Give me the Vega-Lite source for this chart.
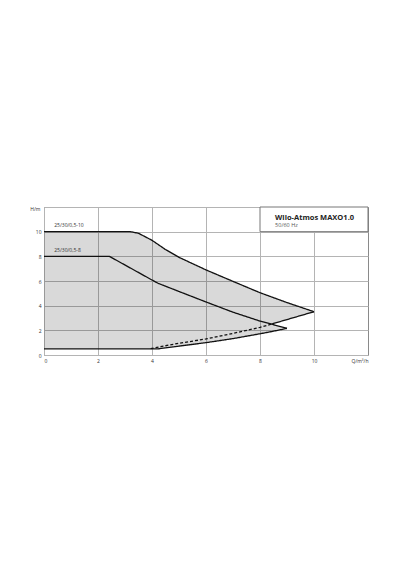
{
  "$schema": "https://vega.github.io/schema/vega-lite/v6.json",
  "width": 324,
  "height": 148,
  "autosize": "none",
  "padding": {"left": 44, "top": 207, "right": 32, "bottom": 215},
  "background": "white",
  "config": {
    "font": "Open Sans",
    "view": {"stroke": "#8a8a8a", "strokeWidth": 1},
    "axis": {
      "grid": true,
      "gridColor": "#b4b4b4",
      "gridWidth": 1,
      "domain": false,
      "ticks": false,
      "labelOverlap": false,
      "labelFontSize": 5,
      "labelColor": "#333",
      "labelPadding": 3,
      "titleFontSize": 5,
      "titleFontWeight": "normal",
      "titleColor": "#333"
    }
  },
  "datasets": {
    "areas": [
      {"model": "0,5-10", "q": 0, "top": 10, "bot": 0.5},
      {"model": "0,5-10", "q": 3.2, "top": 10, "bot": 0.5},
      {"model": "0,5-10", "q": 3.5, "top": 9.87, "bot": 0.5},
      {"model": "0,5-10", "q": 3.95, "top": 9.36, "bot": 0.52},
      {"model": "0,5-10", "q": 4.5, "top": 8.55, "bot": 0.75},
      {"model": "0,5-10", "q": 5, "top": 7.92, "bot": 0.95},
      {"model": "0,5-10", "q": 6, "top": 6.9, "bot": 1.3},
      {"model": "0,5-10", "q": 7, "top": 5.97, "bot": 1.75},
      {"model": "0,5-10", "q": 8, "top": 5.05, "bot": 2.24},
      {"model": "0,5-10", "q": 8.43, "top": 4.7, "bot": 2.51},
      {"model": "0,5-10", "q": 9, "top": 4.25, "bot": 2.87},
      {"model": "0,5-10", "q": 10, "top": 3.51, "bot": 3.51},
      {"model": "0,5-8 only", "q": 3.95, "top": 0.52, "bot": 0.5},
      {"model": "0,5-8 only", "q": 4.23, "top": 0.64, "bot": 0.5},
      {"model": "0,5-8 only", "q": 4.5, "top": 0.75, "bot": 0.58},
      {"model": "0,5-8 only", "q": 5, "top": 0.95, "bot": 0.72},
      {"model": "0,5-8 only", "q": 6, "top": 1.3, "bot": 1.0},
      {"model": "0,5-8 only", "q": 7, "top": 1.75, "bot": 1.33},
      {"model": "0,5-8 only", "q": 8, "top": 2.24, "bot": 1.72},
      {"model": "0,5-8 only", "q": 8.43, "top": 2.51, "bot": 1.9},
      {"model": "0,5-8 only", "q": 9, "top": 2.16, "bot": 2.16}
    ],
    "curves": [
      {"seg": "max10", "kind": "solid", "q": 0, "h": 10},
      {"seg": "max10", "kind": "solid", "q": 3.2, "h": 10},
      {"seg": "max10", "kind": "solid", "q": 3.5, "h": 9.87},
      {"seg": "max10", "kind": "solid", "q": 4, "h": 9.3},
      {"seg": "max10", "kind": "solid", "q": 4.5, "h": 8.55},
      {"seg": "max10", "kind": "solid", "q": 5, "h": 7.92},
      {"seg": "max10", "kind": "solid", "q": 6, "h": 6.9},
      {"seg": "max10", "kind": "solid", "q": 7, "h": 5.97},
      {"seg": "max10", "kind": "solid", "q": 8, "h": 5.05},
      {"seg": "max10", "kind": "solid", "q": 9, "h": 4.25},
      {"seg": "max10", "kind": "solid", "q": 10, "h": 3.51},
      {"seg": "ext10", "kind": "solid", "q": 8.43, "h": 2.51},
      {"seg": "ext10", "kind": "solid", "q": 10, "h": 3.51},
      {"seg": "min10", "kind": "dashed", "q": 3.95, "h": 0.52},
      {"seg": "min10", "kind": "dashed", "q": 4.5, "h": 0.75},
      {"seg": "min10", "kind": "dashed", "q": 5, "h": 0.95},
      {"seg": "min10", "kind": "dashed", "q": 6, "h": 1.3},
      {"seg": "min10", "kind": "dashed", "q": 7, "h": 1.75},
      {"seg": "min10", "kind": "dashed", "q": 8, "h": 2.24},
      {"seg": "min10", "kind": "dashed", "q": 8.43, "h": 2.51},
      {"seg": "max8", "kind": "solid", "q": 0, "h": 8},
      {"seg": "max8", "kind": "solid", "q": 2.42, "h": 8},
      {"seg": "max8", "kind": "solid", "q": 4, "h": 6.08},
      {"seg": "max8", "kind": "solid", "q": 4.23, "h": 5.81},
      {"seg": "max8", "kind": "solid", "q": 5, "h": 5.15},
      {"seg": "max8", "kind": "solid", "q": 6, "h": 4.3},
      {"seg": "max8", "kind": "solid", "q": 7, "h": 3.47},
      {"seg": "max8", "kind": "solid", "q": 8, "h": 2.75},
      {"seg": "max8", "kind": "solid", "q": 8.43, "h": 2.5},
      {"seg": "max8", "kind": "solid", "q": 9, "h": 2.16},
      {"seg": "min8", "kind": "solid", "q": 0, "h": 0.5},
      {"seg": "min8", "kind": "solid", "q": 4.23, "h": 0.5},
      {"seg": "min8", "kind": "solid", "q": 5, "h": 0.72},
      {"seg": "min8", "kind": "solid", "q": 6, "h": 1.0},
      {"seg": "min8", "kind": "solid", "q": 7, "h": 1.33},
      {"seg": "min8", "kind": "solid", "q": 8, "h": 1.72},
      {"seg": "min8", "kind": "solid", "q": 8.43, "h": 1.9},
      {"seg": "min8", "kind": "solid", "q": 9, "h": 2.16}
    ],
    "one": [{}]
  },
  "layer": [
    {
      "data": {"name": "areas"},
      "mark": {"type": "area", "fill": "#000", "fillOpacity": 0.15, "strokeWidth": 0},
      "encoding": {
        "x": {
          "field": "q",
          "type": "quantitative",
          "scale": {"domain": [0, 12], "nice": false},
          "axis": {"values": [0, 2, 4, 6, 8, 10], "title": "Q/m³/h", "titleAngle": 0, "titleAlign": "right", "titleBaseline": "top", "titleX": 324, "titleY": 3}
        },
        "y": {
          "field": "top",
          "type": "quantitative",
          "scale": {"domain": [0, 12], "nice": false},
          "axis": {"tickCount": 6, "labelOverlap": false, "labelExpr": "datum.value >= 12 ? '' : datum.label", "title": "H/m", "titleAngle": 0, "titleAlign": "right", "titleBaseline": "middle", "titleX": -4, "titleY": 1}
        },
        "y2": {"field": "bot"},
        "detail": {"field": "model"}
      }
    },
    {
      "data": {"name": "curves"},
      "mark": {"type": "line", "color": "#111", "strokeWidth": 1.3},
      "encoding": {
        "x": {"field": "q", "type": "quantitative"},
        "y": {"field": "h", "type": "quantitative"},
        "detail": {"field": "seg"},
        "order": {"field": "q"},
        "strokeDash": {
          "field": "kind",
          "type": "nominal",
          "scale": {"domain": ["solid", "dashed"], "range": [[1, 0], [3, 2]]},
          "legend": null
        }
      }
    },
    {
      "data": {"name": "one"},
      "mark": {"type": "rect", "fill": "white", "stroke": "#777", "strokeWidth": 1},
      "encoding": {
        "x": {"datum": 8, "type": "quantitative"},
        "x2": {"datum": 12},
        "y": {"datum": 10, "type": "quantitative"},
        "y2": {"datum": 12}
      }
    },
    {
      "data": {"name": "one"},
      "mark": {"type": "text", "align": "left", "baseline": "alphabetic", "fontSize": 7.5, "fontWeight": "bold", "color": "#222"},
      "encoding": {"x": {"datum": 8.56, "type": "quantitative"}, "y": {"datum": 10.95, "type": "quantitative"}, "text": {"value": "Wilo-Atmos MAXO1.0"}}
    },
    {
      "data": {"name": "one"},
      "mark": {"type": "text", "align": "left", "baseline": "alphabetic", "fontSize": 5.5, "color": "#555"},
      "encoding": {"x": {"datum": 8.56, "type": "quantitative"}, "y": {"datum": 10.4, "type": "quantitative"}, "text": {"value": "50/60 Hz"}}
    },
    {
      "data": {"name": "one"},
      "mark": {"type": "text", "align": "left", "baseline": "alphabetic", "fontSize": 5, "color": "#333"},
      "encoding": {"x": {"datum": 0.38, "type": "quantitative"}, "y": {"datum": 10.38, "type": "quantitative"}, "text": {"value": "25/30/0,5-10"}}
    },
    {
      "data": {"name": "one"},
      "mark": {"type": "text", "align": "left", "baseline": "alphabetic", "fontSize": 5, "color": "#333"},
      "encoding": {"x": {"datum": 0.38, "type": "quantitative"}, "y": {"datum": 8.35, "type": "quantitative"}, "text": {"value": "25/30/0,5-8"}}
    }
  ]
}
